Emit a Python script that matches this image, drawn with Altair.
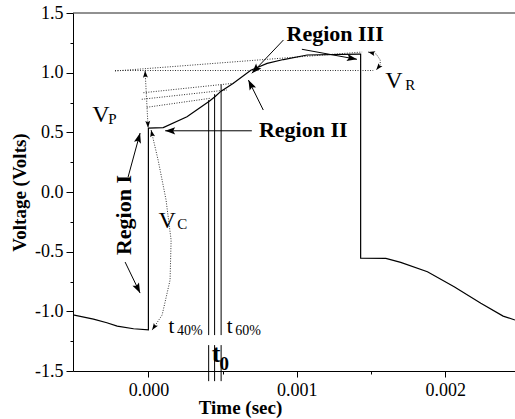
import math
import altair as alt
import pandas as pd

# ---------------- data ----------------
time_s = [-0.000508, -0.00037, -0.00028, -0.00021, -0.0001, 0.0, 0.0, 0.0001, 0.00026,
          0.00041, 0.00045, 0.00049, 0.00057, 0.00069, 0.0008, 0.00091, 0.00107, 0.00142,
          0.00143, 0.00143, 0.0016, 0.0017, 0.00188, 0.00206, 0.00224, 0.00239, 0.00247]
voltage = [-1.03, -1.065, -1.096, -1.124, -1.146, -1.155, 0.535, 0.54, 0.63,
           0.76, 0.8, 0.845, 0.91, 1.02, 1.078, 1.11, 1.148, 1.155,
           1.155, -0.555, -0.556, -0.59, -0.668, -0.794, -0.933, -1.04, -1.073]

# dotted guide lines (each pair = one segment)
guide_t = [[-0.000225, 0.001515], [-0.000225, 0.00144], [-0.0000337, 0.000573],
           [-0.0000445, 0.000529], [-0.0000108, 0.000416]]
guide_v = [[1.018, 1.018], [1.014, 1.173], [0.832, 0.911], [0.777, 0.855], [0.71, 0.785]]

# dotted double-headed arrows: V_P, V_C arc, V_R arc
vp_t = [-0.0000223, -0.000002]
vp_v = [1.016, 0.539]
vc_t = [0.0000182, 0.0000654, 0.000119, 0.000153, 0.000146, 0.0000924, 0.000025]
vc_v = [0.519, 0.268, -0.067, -0.403, -0.738, -1.031, -1.157]
vr_t = [0.001481, 0.001535, 0.001562, 0.001562, 0.001535]
vr_v = [1.173, 1.156, 1.106, 1.064, 1.022]

# solid arrows (head at the last point)
arrow_t = [[-0.000137, -0.000056], [-0.000157, -0.000056], [0.000774, 0.000674],
           [0.000697, 0.000113], [0.00091, 0.000697], [0.001034, 0.001405]]
arrow_v = [[0.125, 0.494], [-0.587, -0.847], [0.687, 0.938],
           [0.513, 0.513], [1.274, 0.995], [1.196, 1.112]]

# vertical markers t40%, t0, t60%
mark_t = [0.000406, 0.000446, 0.00049]
mark_top = [0.77, 0.82, 0.9]
mark_bottom = [-1.199, -1.199, -1.199]
mark_low_top = [-1.283, -1.283, -1.283]
mark_low_bottom = [-1.585, -1.585, -1.585]

# text annotations
region_labels = ["Region III", "Region II"]
region_t = [0.001258, 0.001043]
region_v = [1.268, 0.463]
region1_label = ["Region I"]
region1_t = [-0.000163]
region1_v = [-0.193]
sym_labels = ["V", "P", "V", "C", "V", "R", "t", "40%", "t", "60%"]
sym_t = [-0.000379, -0.000271, 0.0000674, 0.000195, 0.001596, 0.00173,
         0.000135, 0.000192, 0.000528, 0.000585]
sym_v = [0.587, 0.574, -0.304, -0.313, 0.871, 0.855, -1.179, -1.198, -1.179, -1.198]
sym_size = [24, 15, 24, 15, 24, 15, 21, 14, 21, 14]
t0_labels = ["t", "0"]
t0_t = [0.000427, 0.000479]
t0_v = [-1.422, -1.492]
t0_size = [26, 19]

x_ticks = [0.0, 0.0005, 0.001, 0.0015, 0.002]
y_ticks = [-1.5, -1.25, -1.0, -0.75, -0.5, -0.25, 0.0, 0.25, 0.5, 0.75, 1.0, 1.25, 1.5]
x_domain = [-0.000508, 0.00247]
y_domain = [-1.5, 1.5]

# ---------------- build tables ----------------
W, H = 442, 358
kx = W / (x_domain[1] - x_domain[0])
ky = H / (y_domain[1] - y_domain[0])


def head_angle(t0, v0, t1, v1):
    dx = (t1 - t0) * kx
    dy = -(v1 - v0) * ky
    return math.degrees(math.atan2(dx, -dy)) % 360


curve = pd.DataFrame({"t": time_s, "v": voltage, "i": range(len(time_s))})

dotted_rows = []
seg = 0
for ts, vs in list(zip(guide_t, guide_v)) + [(vp_t, vp_v), (vc_t, vc_v), (vr_t, vr_v)]:
    for i, (a, b) in enumerate(zip(ts, vs)):
        dotted_rows.append({"seg": seg, "i": i, "t": a, "v": b})
    seg += 1
dotted = pd.DataFrame(dotted_rows)

solid_rows = []
big_heads = []
for s, (ts, vs) in enumerate(zip(arrow_t, arrow_v)):
    for i, (a, b) in enumerate(zip(ts, vs)):
        solid_rows.append({"seg": s, "i": i, "t": a, "v": b})
    big_heads.append({"t": ts[-1], "v": vs[-1], "angle": head_angle(ts[-2], vs[-2], ts[-1], vs[-1])})
solid = pd.DataFrame(solid_rows)
big_heads = pd.DataFrame(big_heads)

small_heads = []
for ts, vs in [(vp_t, vp_v), (vc_t, vc_v), (vr_t, vr_v)]:
    small_heads.append({"t": ts[0], "v": vs[0], "angle": head_angle(ts[1], vs[1], ts[0], vs[0])})
    small_heads.append({"t": ts[-1], "v": vs[-1], "angle": head_angle(ts[-2], vs[-2], ts[-1], vs[-1])})
small_heads = pd.DataFrame(small_heads)

marks = pd.DataFrame({"t": mark_t, "top": mark_top, "bottom": mark_bottom,
                      "ltop": mark_low_top, "lbottom": mark_low_bottom})
frame = pd.DataFrame({"t": [x_domain[0]], "t2": [x_domain[1]], "v": [y_domain[1]]})

regions = pd.DataFrame({"t": region_t, "v": region_v, "label": region_labels})
region1 = pd.DataFrame({"t": region1_t, "v": region1_v, "label": region1_label})
syms = pd.DataFrame({"t": sym_t, "v": sym_v, "label": sym_labels, "size": sym_size})
t0df = pd.DataFrame({"t": t0_t, "v": t0_v, "label": t0_labels, "size": t0_size})

# ---------------- scales and axes ----------------
FONT = "Liberation Serif"
XMAJ = "abs(datum.value*1000 - round(datum.value*1000)) < 0.000001"
YMAJ = "abs(datum.value*2 - round(datum.value*2)) < 0.000001"

x_scale = alt.Scale(domain=x_domain, nice=False, zero=False)
y_scale = alt.Scale(domain=y_domain, nice=False, zero=False)

x_axis = alt.Axis(values=x_ticks, format=".3f",
                  labelExpr=f"{XMAJ} ? datum.label : ''",
                  tickSize={"condition": {"test": XMAJ, "value": 6}, "value": 3},
                  labelPadding=4, title="Time (sec)", titleX=167, titleY=42,
                  titleBaseline="alphabetic", titleAlign="center")
y_axis = alt.Axis(values=y_ticks, format=".1f",
                  labelExpr=f"{YMAJ} ? replace(datum.label, '\u2212', '-') : ''",
                  tickSize={"condition": {"test": YMAJ, "value": 7}, "value": 3},
                  labelPadding=3, title="Voltage (Volts)", titleX=-48, titleY=179,
                  titleBaseline="alphabetic", titleAlign="center", titleAngle=270)


def X(field="t"):
    return alt.X(f"{field}:Q", scale=x_scale, axis=x_axis)


def Y(field="v"):
    return alt.Y(f"{field}:Q", scale=y_scale, axis=y_axis)


ARROW = "M0,0L0.9,2.5L0,2L-0.9,2.5Z"

top_line = alt.Chart(frame).mark_rule(color="#222", strokeWidth=1, clip=False).encode(
    x=X(), x2="t2:Q", y=Y())

curve_layer = alt.Chart(curve).mark_line(color="black", strokeWidth=1.2, clip=True).encode(
    x=X(), y=Y(), order="i:Q")

dotted_layer = alt.Chart(dotted).mark_line(color="#333", strokeWidth=1, strokeDash=[1, 1.5]).encode(
    x=X(), y=Y(), detail="seg:N", order="i:Q")

solid_layer = alt.Chart(solid).mark_line(color="black", strokeWidth=1).encode(
    x=X(), y=Y(), detail="seg:N", order="i:Q")

big_head_layer = alt.Chart(big_heads).mark_point(
    shape=ARROW, filled=True, color="black", opacity=1, size=64, strokeWidth=0).encode(
    x=X(), y=Y(), angle=alt.Angle("angle:Q", scale=None))

small_head_layer = alt.Chart(small_heads).mark_point(
    shape=ARROW, filled=True, color="black", opacity=1, size=30, strokeWidth=0).encode(
    x=X(), y=Y(), angle=alt.Angle("angle:Q", scale=None))

vline_upper = alt.Chart(marks).mark_rule(color="black", strokeWidth=1, clip=False).encode(
    x=X(), y=Y("top"), y2="bottom:Q")
vline_lower = alt.Chart(marks).mark_rule(color="black", strokeWidth=1, clip=False).encode(
    x=X(), y=Y("ltop"), y2="lbottom:Q")

region_text = alt.Chart(regions).mark_text(
    font=FONT, fontSize=22, fontWeight="bold", align="center", baseline="alphabetic",
    color="black").encode(x=X(), y=Y(), text="label:N")

region1_text = alt.Chart(region1).mark_text(
    font=FONT, fontSize=22, fontWeight="bold", align="center", baseline="middle",
    angle=270, color="black").encode(x=X(), y=Y(), text="label:N")

sym_text = alt.Chart(syms).mark_text(
    font=FONT, align="left", baseline="alphabetic", color="black").encode(
    x=X(), y=Y(), text="label:N", size=alt.Size("size:Q", scale=None))

t0_text = alt.Chart(t0df).mark_text(
    font=FONT, fontWeight="bold", align="left", baseline="alphabetic", color="black").encode(
    x=X(), y=Y(), text="label:N", size=alt.Size("size:Q", scale=None))

chart = alt.layer(
    top_line, dotted_layer, vline_upper, vline_lower, curve_layer, solid_layer,
    big_head_layer, small_head_layer, region_text, region1_text, sym_text, t0_text
).properties(
    width=W, height=H,
    padding={"left": 73, "top": 13, "right": 0, "bottom": 48},
    autosize=alt.AutoSizeParams(type="none"),
).configure_view(stroke=None).configure_axis(
    labelFont=FONT, labelFontSize=18, labelColor="black",
    titleFont=FONT, titleFontSize=19, titleFontWeight="bold", titleColor="black",
    domainColor="black", tickColor="black", domainWidth=1, tickWidth=1, grid=False,
)

chart.save("out.html", embed_options={"renderer": "svg", "actions": False})
